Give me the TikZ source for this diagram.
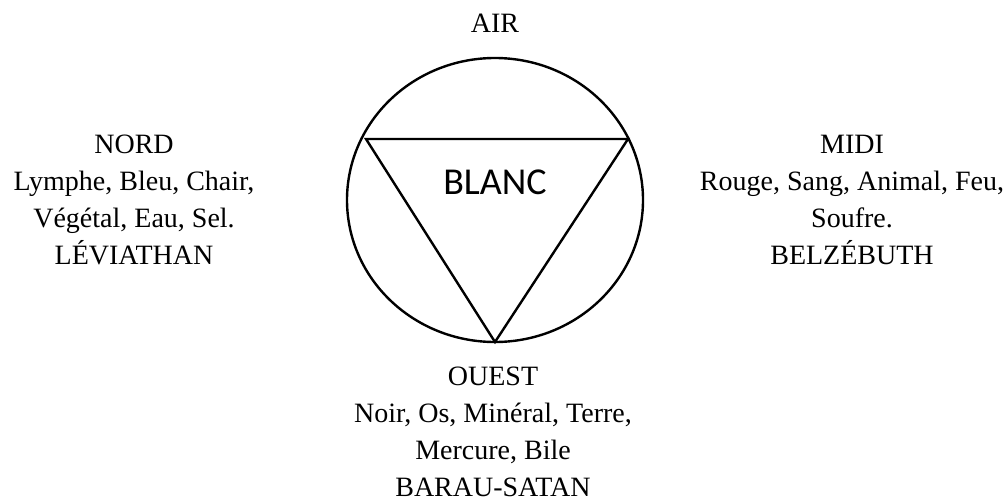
\documentclass[tikz,border=0pt]{standalone}
\usepackage{fontspec}
\setmainfont{Liberation Serif}
\newfontfamily\calibrifont{Carlito}
\begin{document}
\begin{tikzpicture}[x=1pt,y=-1pt,
  lbl/.style={anchor=base,inner sep=0pt,font=\fontsize{28}{34}\selectfont},
  shape line/.style={line width=2.4pt,line join=miter}]
\useasboundingbox (0,0) rectangle (1006,501);
% circle and triangle
\coordinate (c) at (495,200);
\coordinate (tl) at (366,139);
\coordinate (tr) at (628,139);
\coordinate (ap) at (495,342);
\draw[shape line] (c) ellipse [x radius=148, y radius=142];
\draw[shape line] (tl) -- (tr) -- (ap) -- cycle;
\node[anchor=center,inner sep=0pt,font=\calibrifont\fontsize{38}{40}\selectfont] (blanc) at (495,182) {BLANC};
% top
\node[lbl] (air) at (495,32) {AIR};
% left
\node[lbl] (nord1) at (134,153) {NORD};
\node[lbl] (nord2) at (134,190) {Lymphe, Bleu, Chair,};
\node[lbl] (nord3) at (134,227) {Végétal, Eau, Sel.};
\node[lbl] (nord4) at (134,264) {LÉVIATHAN};
% right
\node[lbl] (midi1) at (852,153) {MIDI};
\node[lbl] (midi2) at (852,190) {Rouge, Sang, Animal, Feu,};
\node[lbl] (midi3) at (852,227) {Soufre.};
\node[lbl] (midi4) at (852,264) {BELZÉBUTH};
% bottom
\node[lbl] (ouest1) at (493,385) {OUEST};
\node[lbl] (ouest2) at (493,422) {Noir, Os, Minéral, Terre,};
\node[lbl] (ouest3) at (493,459) {Mercure, Bile};
\node[lbl] (ouest4) at (493,496) {BARAU-SATAN};
\end{tikzpicture}
\end{document}
